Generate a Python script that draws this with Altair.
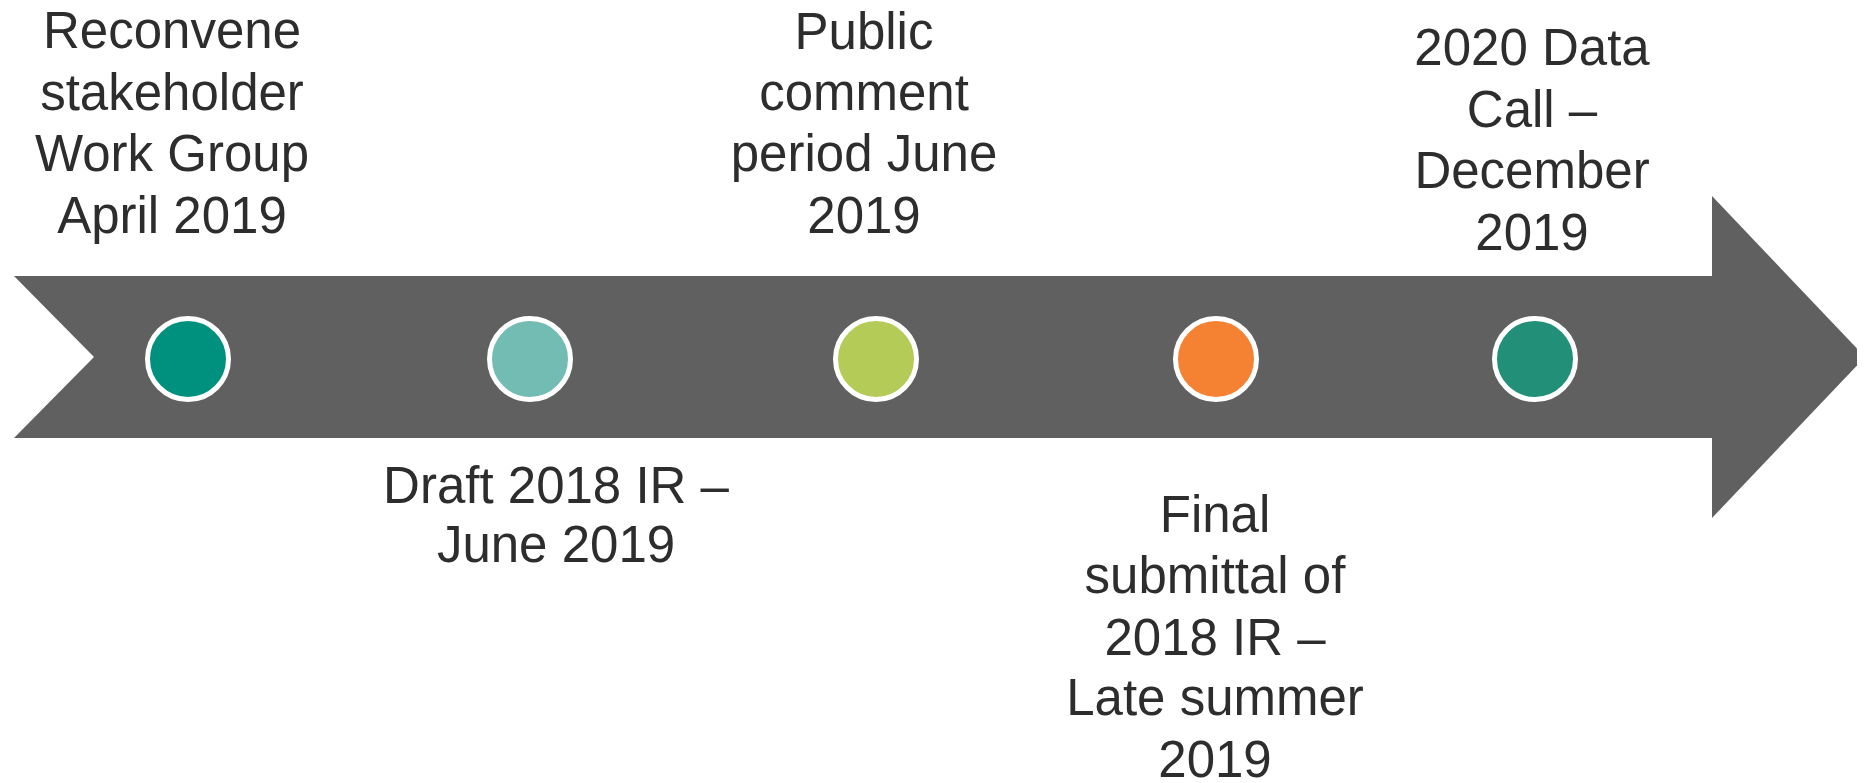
import altair as alt
import pandas as pd

# ---- data (positions in reference pixel space) ----
body_y = [276, 357, 438]
body_x = [14, 94, 14]
body_x2 = [1712, 1712, 1712]

head_x = [1712, 1865]
head_y = [196, 357]
head_y2 = [518, 357]

milestone_x = [188, 530, 876, 1216, 1535]
milestone_y = [359, 359, 359, 359, 359]
milestone_color = ["#00917E", "#72BCB3", "#B4CB57", "#F58233", "#228F78"]

label_lines = [
    ["Reconvene", "stakeholder", "Work Group", "April 2019"],
    ["Draft 2018 IR \u2013", "June 2019"],
    ["Public", "comment", "period June", "2019"],
    ["Final", "submittal of", "2018 IR \u2013", "Late summer", "2019"],
    ["2020 Data", "Call \u2013", "December", "2019"],
]
label_x = [172, 556, 864, 1215, 1532]
label_baselines = [
    [48, 110, 171, 233],
    [503, 562],
    [49, 110, 171, 233],
    [532, 593, 655, 715, 777],
    [65, 127, 188, 250],
]

# ---- tables ----
body = pd.DataFrame({"y": body_y, "x": body_x, "x2": body_x2})
head = pd.DataFrame({"x": head_x, "y": head_y, "y2": head_y2})
dots = pd.DataFrame({"x": milestone_x, "y": milestone_y, "c": milestone_color})
rows = []
for i, lines in enumerate(label_lines):
    for j, t in enumerate(lines):
        rows.append({"x": label_x[i], "y": label_baselines[i][j], "t": t})
labels = pd.DataFrame(rows)

W, H = 1849, 775
xs = alt.Scale(domain=[8, 8 + W], zero=False, nice=False)
ys = alt.Scale(domain=[8, 8 + H], zero=False, nice=False, reverse=True)

body_m = alt.Chart(body).mark_area(orient="horizontal", color="#606060").encode(
    y=alt.Y("y:Q", scale=ys, axis=None),
    x=alt.X("x:Q", scale=xs, axis=None),
    x2="x2:Q",
)
head_m = alt.Chart(head).mark_area(orient="vertical", color="#606060").encode(
    x=alt.X("x:Q", scale=xs, axis=None),
    y=alt.Y("y:Q", scale=ys, axis=None),
    y2="y2:Q",
)
dots_m = alt.Chart(dots).mark_point(
    shape="circle", filled=True, size=6561, stroke="white", strokeWidth=5, opacity=1
).encode(
    x=alt.X("x:Q", scale=xs, axis=None),
    y=alt.Y("y:Q", scale=ys, axis=None),
    fill=alt.Fill("c:N", scale=None),
)
text_m = alt.Chart(labels).mark_text(
    font="Liberation Sans", fontSize=51, color="#2d2d2d",
    align="center", baseline="alphabetic",
).encode(
    x=alt.X("x:Q", scale=xs, axis=None),
    y=alt.Y("y:Q", scale=ys, axis=None),
    text="t:N",
)

chart = alt.layer(body_m, head_m, dots_m, text_m).properties(
    width=W, height=H, padding=0, autosize=alt.AutoSizeParams(type="none"),
    background="white",
).configure_view(stroke=None)

chart.save("out.html", embed_options={"renderer": "svg", "actions": False})
